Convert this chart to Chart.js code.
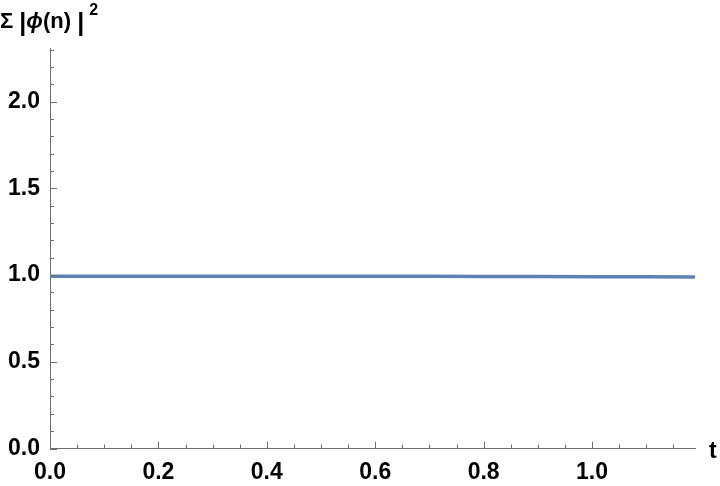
<!DOCTYPE html>
<html>
<head>
<meta charset="utf-8">
<script src="https://cdn.jsdelivr.net/npm/chart.js@4.4.1/dist/chart.umd.min.js"></script>
<style>
html,body{margin:0;padding:0;background:#fff;}
#wrap{width:720px;height:486px;position:relative;}
</style>
</head>
<body>
<div id="wrap"><canvas id="c" width="720" height="486"></canvas></div>
<script>
// ---- data ----
const tValues = [0, 0.1, 0.2, 0.3, 0.4, 0.5, 0.6, 0.7, 0.8, 0.9, 1.0, 1.1, 1.19];
const normValues = [0.993, 0.993, 0.993, 0.993, 0.993, 0.993, 0.993, 0.993, 0.992, 0.992, 0.991, 0.990, 0.989];
const xMajorTicks = [0, 0.2, 0.4, 0.6, 0.8, 1.0];
const yMajorTicks = [0, 0.5, 1.0, 1.5, 2.0];
const xMinorStep = 0.05;
const yMinorStep = 0.1;
const xMax = 1.19;
const yMax = 2.31;
const yAxisTitle = ['Σ ', '|', 'ϕ', '(n)', ' ', '|'];
const xAxisTitle = 't';

const axisColor = '#6e6e6e';
const tickFont = 'bold 23px "Liberation Sans", Arial, sans-serif';

const innerTicks = {
  id: 'innerTicks',
  afterDraw(chart) {
    const ctx = chart.ctx;
    const xs = chart.scales.x, ys = chart.scales.y;
    const area = chart.chartArea;
    ctx.save();
    ctx.strokeStyle = axisColor;
    ctx.lineWidth = 1;
    for (let i = 0; i * xMinorStep <= xMax + 1e-9; i++) {
      const v = +(i * xMinorStep).toFixed(4);
      const major = xMajorTicks.some(m => Math.abs(m - v) < 1e-6);
      const px = Math.round(xs.getPixelForValue(v)) + 0.5;
      const len = major ? 7 : 4;
      ctx.beginPath();
      ctx.moveTo(px, area.bottom);
      ctx.lineTo(px, area.bottom - len);
      ctx.stroke();
    }
    for (let i = 0; i * yMinorStep <= yMax + 1e-9; i++) {
      const v = +(i * yMinorStep).toFixed(4);
      const major = yMajorTicks.some(m => Math.abs(m - v) < 1e-6);
      const py = Math.round(ys.getPixelForValue(v)) + 0.5;
      const len = major ? 7 : 4;
      ctx.beginPath();
      ctx.moveTo(area.left, py);
      ctx.lineTo(area.left + len, py);
      ctx.stroke();
    }
    // axis titles
    ctx.fillStyle = '#000';
    ctx.textBaseline = 'alphabetic';
    ctx.textAlign = 'left';
    let x = 0;
    const base = 28;
    const fam = '"Liberation Sans", Arial, sans-serif';
    const fonts = [
      'bold 22px ' + fam,
      'bold 25px ' + fam,
      'bold italic 22px ' + fam,
      'bold 22px ' + fam,
      'bold 22px ' + fam,
      'bold 25px ' + fam
    ];
    const bases = [base, base + 3, base, base, base, base + 3];
    yAxisTitle.forEach((s, i) => {
      ctx.font = fonts[i];
      ctx.fillText(s, x, bases[i]);
      x += ctx.measureText(s).width;
    });
    ctx.font = 'bold 16px ' + fam;
    ctx.fillText('2', x + 5, 15);
    ctx.font = tickFont;
    ctx.fillText(xAxisTitle, 709, area.bottom + 9);
    ctx.restore();
  }
};

new Chart(document.getElementById('c'), {
  type: 'line',
  data: {
    labels: tValues,
    datasets: [{
      data: tValues.map((t, i) => ({x: t, y: normValues[i]})),
      borderColor: '#5E81B5',
      borderWidth: 3.5,
      pointRadius: 0,
      fill: false,
      tension: 0
    }]
  },
  options: {
    responsive: false,
    animation: false,
    devicePixelRatio: 1,
    layout: {padding: {left: 0, top: 48, right: 25, bottom: 0}},
    plugins: {legend: {display: false}, tooltip: {enabled: false}},
    scales: {
      x: {
        type: 'linear',
        min: 0, max: xMax,
        afterBuildTicks: s => { s.ticks = xMajorTicks.map(v => ({value: v})); },
        afterFit: s => { s.height = 37.5; },
        grid: {display: false, drawTicks: false},
        border: {display: true, color: axisColor, width: 1},
        ticks: {
          padding: 10,
          color: '#000',
          font: {family: '"Liberation Sans", Arial, sans-serif', size: 23, weight: 'bold'},
          maxRotation: 0,
          callback: v => Number(v).toFixed(1)
        }
      },
      y: {
        type: 'linear',
        min: 0, max: yMax,
        afterBuildTicks: s => { s.ticks = yMajorTicks.map(v => ({value: v})); },
        afterFit: s => { s.width = 50; },
        grid: {display: false, drawTicks: false},
        border: {display: true, color: axisColor, width: 1},
        ticks: {
          padding: 10,
          color: '#000',
          font: {family: '"Liberation Sans", Arial, sans-serif', size: 23, weight: 'bold'},
          callback: v => Number(v).toFixed(1)
        }
      }
    }
  },
  plugins: [innerTicks]
});
</script>
</body>
</html>
